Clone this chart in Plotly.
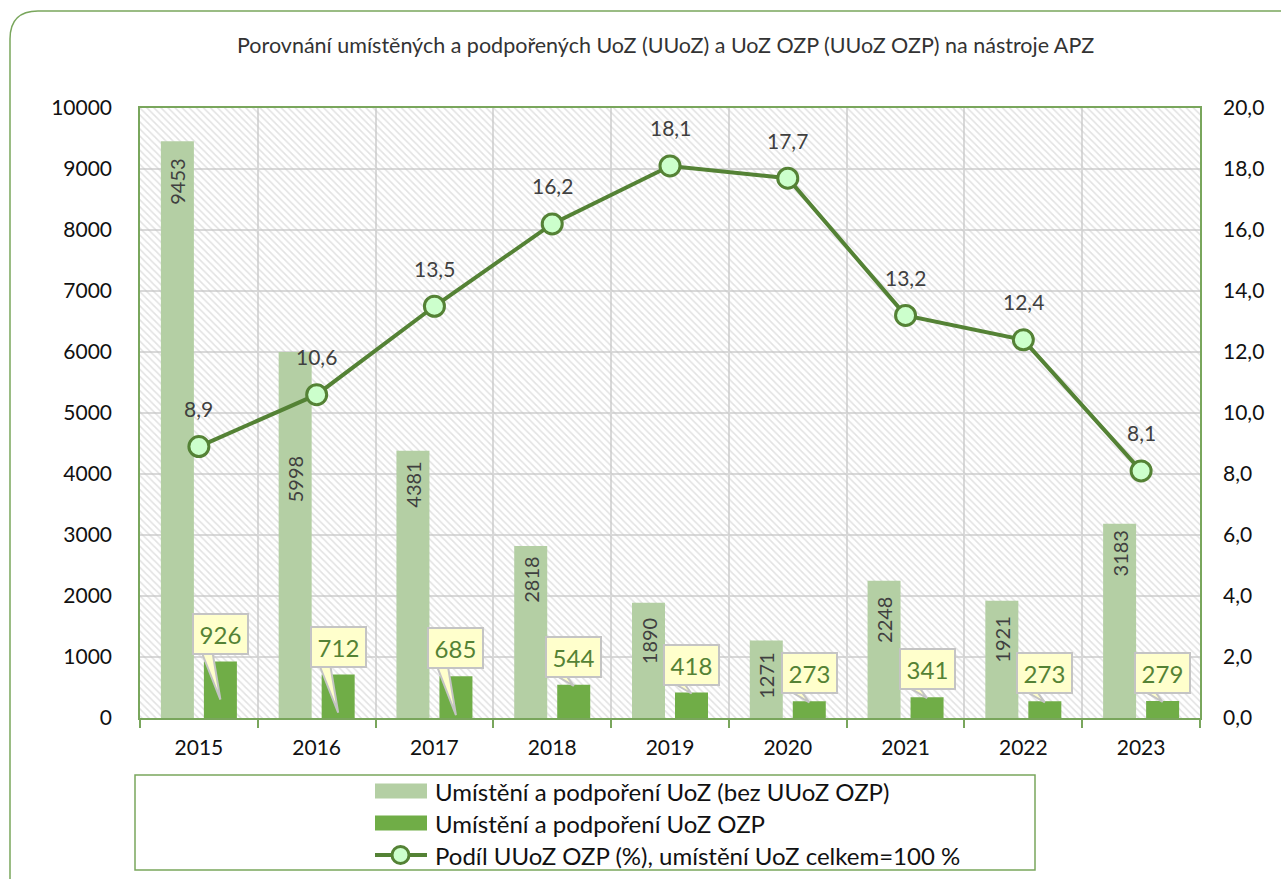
import plotly.graph_objects as go

# ---- data ----
years = ["2015", "2016", "2017", "2018", "2019", "2020", "2021", "2022", "2023"]
uoz_bez_ozp = [9453, 5998, 4381, 2818, 1890, 1271, 2248, 1921, 3183]
uoz_ozp = [926, 712, 685, 544, 418, 273, 341, 273, 279]
podil_ozp = [8.9, 10.6, 13.5, 16.2, 18.1, 17.7, 13.2, 12.4, 8.1]

left_ticks = list(range(0, 10001, 1000))
right_ticks = [0, 2, 4, 6, 8, 10, 12, 14, 16, 18, 20]

# ---- styling ----
LIGHT = "#b4cfa4"
DARK = "#70ad47"
LINE = "#548235"
MARK_FILL = "#ccffcc"
FRAME = "#79a65c"
GRID = "#d9d9d9"
FONT = "Lato, Carlito, Calibri, sans-serif"

# plot-area geometry in pixels
L, R, T, B = 140, 1200, 108, 718
W, H = R - L, B - T
CAT_PX = W / len(years)
BAR_PX = 33
SHIFT_PX = 21.5


def px(x):
    return (x - L) / W


def py(y):
    return (B - y) / H


bar_w = BAR_PX / CAT_PX
shift = SHIFT_PX / CAT_PX

# vertical label placement inside the light bars (px below bar top)
light_label_drop = [40, 127, 34, 34, 39, 35, 39, 39, 30]
# callout tail length below the dark bar top (px)
tail_drop = [38, 38, 39, 1, 1, 1, 1, 1, 1]

fig = go.Figure()

# hatched plot background
fig.add_trace(go.Bar(
    x=years, y=[10000] * len(years), width=1.0, offset=-0.5,
    marker=dict(color="rgba(0,0,0,0)", line=dict(width=0),
                pattern=dict(shape="\\", fgcolor="#c6c6c6", bgcolor="rgba(0,0,0,0)",
                             size=5, solidity=0.32)),
    hoverinfo="skip", showlegend=False,
))

fig.add_trace(go.Bar(
    x=years, y=uoz_bez_ozp, width=bar_w, offset=-shift - bar_w / 2,
    marker=dict(color=LIGHT, line=dict(width=0)),
    name="Umístění a podpoření UoZ (bez UUoZ OZP)", showlegend=False, hoverinfo="skip",
))
fig.add_trace(go.Bar(
    x=years, y=uoz_ozp, width=bar_w, offset=shift - bar_w / 2,
    marker=dict(color=DARK, line=dict(width=0)),
    name="Umístění a podpoření UoZ OZP", showlegend=False, hoverinfo="skip",
))
fig.add_trace(go.Scatter(
    x=years, y=podil_ozp, yaxis="y2", mode="lines+markers",
    line=dict(color=LINE, width=4),
    marker=dict(size=20, color=MARK_FILL, line=dict(color=LINE, width=3)),
    name="Podíl UUoZ OZP (%), umístění UoZ celkem=100 %", showlegend=False, hoverinfo="skip",
))

annotations = []
shapes = []

# rotated value labels in the light bars (category axis positions are serial numbers)
for i, (v, d) in enumerate(zip(uoz_bez_ozp, light_label_drop)):
    annotations.append(dict(
        x=i, y=v, xref="x", yref="y", xshift=-SHIFT_PX, yshift=-d,
        text=str(v), textangle=-90, showarrow=False,
        font=dict(family=FONT, size=20, color="#404040"),
        xanchor="center", yanchor="middle",
    ))

# callouts for the OZP bars
for i, (v, d) in enumerate(zip(uoz_ozp, tail_drop)):
    xo = SHIFT_PX
    shapes.append(dict(
        type="path", xref="x", yref="y", xsizemode="pixel", ysizemode="pixel",
        xanchor=i, yanchor=v,
        path=f"M {xo - 19},{10} L {xo - 8},{10} L {xo},{-d} Z",
        fillcolor="#ffffcc", line=dict(color="#c4c4c4", width=2), layer="above",
    ))
    annotations.append(dict(
        x=i, y=v, xref="x", yref="y", xshift=SHIFT_PX, yshift=28,
        text=str(v), showarrow=False,
        font=dict(family=FONT, size=24, color=LINE),
        bgcolor="#ffffcc", bordercolor="#c4c4c4", borderwidth=2, borderpad=2,
        width=49, height=34, xanchor="center", yanchor="middle",
    ))

# share labels above the line markers
for i, v in enumerate(podil_ozp):
    annotations.append(dict(
        x=i, y=v, xref="x", yref="y2", yshift=38,
        text=f"{v:.1f}".replace(".", ","), showarrow=False,
        font=dict(family=FONT, size=21, color="#404040"),
        xanchor="center", yanchor="middle",
    ))

# title
annotations.append(dict(
    x=px(665), y=py(45), xref="paper", yref="paper",
    text="Porovnání umístěných a podpořených UoZ (UUoZ) a UoZ OZP (UUoZ OZP) na nástroje APZ",
    showarrow=False, font=dict(family=FONT, size=21.5, color="#333333"),
    xanchor="center", yanchor="middle",
))

# outer rounded frame
r = 28
x0f, y0f = 10, 11
shapes.append(dict(
    type="path", xref="paper", yref="paper",
    path=(f"M {px(x0f)},{py(900)} L {px(x0f)},{py(y0f + r)} "
          f"Q {px(x0f)},{py(y0f)} {px(x0f + r)},{py(y0f)} L {px(1300)},{py(y0f)}"),
    line=dict(color=FRAME, width=1.5), layer="below",
))

# legend box
shapes.append(dict(
    type="rect", xref="paper", yref="paper",
    x0=px(135), x1=px(1035), y0=py(775), y1=py(870),
    line=dict(color=FRAME, width=1.5), fillcolor="white", layer="below",
))
legend_rows = [
    ("Umístění a podpoření UoZ (bez UUoZ OZP)", 791, "bar", LIGHT),
    ("Umístění a podpoření UoZ OZP", 823, "bar", DARK),
    ("Podíl UUoZ OZP (%), umístění UoZ celkem=100 %", 855, "line", LINE),
]
for label, yc, kind, col in legend_rows:
    if kind == "bar":
        shapes.append(dict(type="rect", xref="paper", yref="paper",
                           x0=px(375), x1=px(427), y0=py(yc - 7.5), y1=py(yc + 7.5),
                           fillcolor=col, line=dict(width=0)))
    else:
        shapes.append(dict(type="line", xref="paper", yref="paper",
                           x0=px(375), x1=px(427), y0=py(yc), y1=py(yc),
                           line=dict(color=col, width=4)))
        shapes.append(dict(type="circle", xref="paper", yref="paper",
                           x0=px(392), x1=px(409), y0=py(yc - 8.5), y1=py(yc + 8.5),
                           fillcolor=MARK_FILL, line=dict(color=col, width=3)))
    annotations.append(dict(
        x=px(433), y=py(yc), xref="paper", yref="paper", text=label,
        showarrow=False, xanchor="left", yanchor="middle",
        font=dict(family=FONT, size=24, color="#111111"),
    ))

fig.update_layout(
    width=1281, height=879,
    margin=dict(l=L, r=1281 - R, t=T, b=879 - B, autoexpand=False),
    paper_bgcolor="white", plot_bgcolor="white",
    barmode="overlay", showlegend=False,
    font=dict(family=FONT, color="#111111"),
    xaxis=dict(
        type="category", tickson="boundaries", ticks="outside", ticklen=8,
        tickcolor=FRAME, tickwidth=1.5, showgrid=True, gridcolor=GRID, gridwidth=2,
        showline=True, linecolor=FRAME, linewidth=1.5, mirror=True,
        tickfont=dict(family=FONT, size=21, color="#111111"),
        range=[-0.5, len(years) - 0.5], ticklabelstandoff=10,
    ),
    yaxis=dict(
        range=[0, 10000], tickvals=left_ticks, ticktext=[str(t) for t in left_ticks],
        showgrid=True, gridcolor=GRID, gridwidth=2, zeroline=False,
        showline=True, linecolor=FRAME, linewidth=1.5, mirror=True,
        tickfont=dict(family=FONT, size=21, color="#111111"), ticklabelstandoff=22,
    ),
    yaxis2=dict(
        range=[0, 20], overlaying="y", side="right",
        tickvals=right_ticks, ticktext=[f"{t:.1f}".replace(".", ",") for t in right_ticks],
        showgrid=False, zeroline=False, showline=False,
        tickfont=dict(family=FONT, size=21, color="#111111"), ticklabelstandoff=22,
    ),
    annotations=annotations,
    shapes=shapes,
)

fig.write_html("out.html")
